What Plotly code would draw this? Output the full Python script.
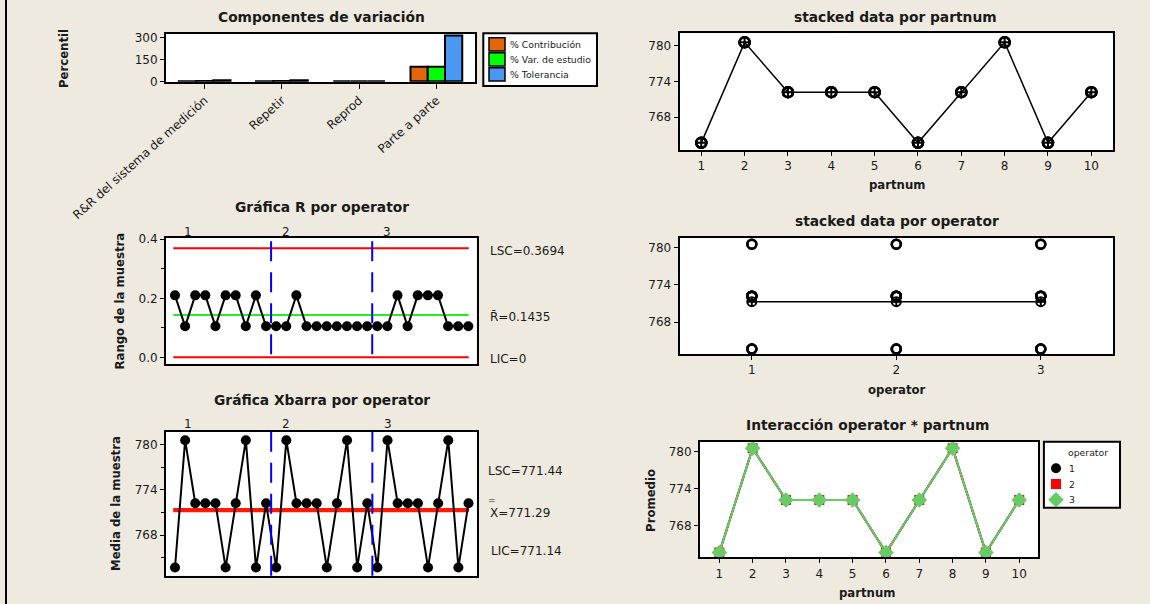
import numpy as np
import plotly.graph_objects as go

# ---------------- data ----------------
components = ["R&R del sistema de medición", "Repetir", "Reprod", "Parte a parte"]
pct_contribucion = [0.05, 0.05, 0.0, 99.95]
pct_var_estudio = [2.2, 2.2, 0.0, 99.98]
pct_tolerancia = [6.8, 6.8, 0.0, 315.0]

parts = list(range(1, 11))
operators = [1, 2, 3]

range_op1 = [0.21, 0.105, 0.21, 0.21, 0.105, 0.21, 0.21, 0.105, 0.21, 0.105]
range_op2 = [0.105, 0.105, 0.21, 0.105, 0.105, 0.105, 0.105, 0.105, 0.105, 0.105]
range_op3 = [0.105, 0.105, 0.21, 0.105, 0.21, 0.21, 0.21, 0.105, 0.105, 0.105]

xbar_op1 = [763.7, 780.55, 772.2, 772.2, 772.2, 763.7, 772.2, 780.55, 763.7, 772.2]
xbar_op2 = [763.7, 780.55, 772.2, 772.2, 772.2, 763.7, 772.2, 780.55, 763.7, 772.2]
xbar_op3 = [763.7, 780.55, 772.2, 772.2, 772.2, 763.7, 772.2, 780.55, 763.7, 772.2]

r_lsc, r_bar, r_lic = 0.3694, 0.1435, 0.0
x_lsc, x_dbar, x_lic = 771.44, 771.29, 771.14

# ---------------- helpers ----------------
W, H = 1150, 604
FONT = "DejaVu Sans"
BG = "#EEEAE0"


def dx(a, b):
    return [a / W, b / W]


def dy(top, bottom):
    return [1 - bottom / H, 1 - top / H]


def px(x):
    return x / W


def py(y):
    return 1 - y / H


def axis_style(**kw):
    d = dict(showline=True, mirror=True, linecolor="black", linewidth=2,
             ticks="outside", ticklen=4, tickwidth=1, tickcolor="black",
             showgrid=False, zeroline=False, automargin=False,
             tickfont=dict(family=FONT, size=12, color="#1a1a1a"))
    d.update(kw)
    return d


fig = go.Figure()

# ---------------- panel 1: components ----------------
for name, vals, col in [("% Contribución", pct_contribucion, "#E4660C"),
                        ("% Var. de estudio", pct_var_estudio, "#00FF00"),
                        ("% Tolerancia", pct_tolerancia, "#4C97F2")]:
    fig.add_trace(go.Bar(x=components, y=vals, name=name, marker=dict(color=col, line=dict(color="black", width=2)),
                         xaxis="x", yaxis="y", showlegend=False))

# ---------------- panel 2: R chart ----------------
sample_idx = list(range(1, 31))
r_all = range_op1 + range_op2 + range_op3
fig.add_trace(go.Scatter(x=sample_idx, y=r_all, mode="lines+markers",
                         line=dict(color="black", width=2),
                         marker=dict(color="black", size=10),
                         xaxis="x2", yaxis="y2", showlegend=False))

# ---------------- panel 3: Xbar chart ----------------
xbar_all = xbar_op1 + xbar_op2 + xbar_op3
for lim in [x_lsc, x_lic, x_dbar]:
    fig.add_trace(go.Scatter(x=[0.83, 30.04], y=[lim, lim], mode="lines",
                             line=dict(color="#FF1A00", width=2),
                             xaxis="x3", yaxis="y3", showlegend=False))
fig.add_trace(go.Scatter(x=sample_idx, y=xbar_all, mode="lines+markers",
                         line=dict(color="black", width=2),
                         marker=dict(color="black", size=10),
                         xaxis="x3", yaxis="y3", showlegend=False))

# ---------------- panel 4: by partnum ----------------
part_means = list(np.mean([xbar_op1, xbar_op2, xbar_op3], axis=0))
fig.add_trace(go.Scatter(x=parts * 3, y=xbar_all, mode="markers",
                         marker=dict(symbol="circle-open", color="black", size=10, line=dict(width=2.5)),
                         xaxis="x4", yaxis="y4", showlegend=False))
fig.add_trace(go.Scatter(x=parts, y=part_means, mode="lines+markers",
                         line=dict(color="black", width=1.5),
                         marker=dict(symbol="circle-cross-open", color="black", size=10, line=dict(width=2)),
                         xaxis="x4", yaxis="y4", showlegend=False))

# ---------------- panel 5: by operator ----------------
op_vals = [xbar_op1, xbar_op2, xbar_op3]
op_means = [float(np.mean(v)) for v in op_vals]
for o, vals in zip(operators, op_vals):
    fig.add_trace(go.Scatter(x=[o] * len(vals), y=vals, mode="markers",
                             marker=dict(symbol="circle-open", color="black", size=9, line=dict(width=2.5)),
                             xaxis="x5", yaxis="y5", showlegend=False))
fig.add_trace(go.Scatter(x=operators, y=op_means, mode="lines+markers",
                         line=dict(color="black", width=1.5),
                         marker=dict(symbol="circle-cross-open", color="black", size=9, line=dict(width=2)),
                         xaxis="x5", yaxis="y5", showlegend=False))

# ---------------- panel 6: interaction ----------------
inter_styles = [
    (xbar_op1, "black", "solid", "circle", 10),
    (xbar_op2, "#FF0000", "dash", "square", 10),
    (xbar_op3, "#66CC66", "solid", "diamond", 12),
]
for vals, col, dash, sym, sz in inter_styles:
    fig.add_trace(go.Scatter(x=parts, y=vals, mode="lines+markers",
                             line=dict(color=col, width=2, dash=dash),
                             marker=dict(symbol=sym, color=col, size=sz),
                             xaxis="x6", yaxis="y6", showlegend=False))

# legend markers for interaction (hidden axis)
leg_y = [0.597, 0.359, 0.121]
for (vals, col, dash, sym, sz), yy in zip(inter_styles, leg_y):
    fig.add_trace(go.Scatter(x=[0.159], y=[yy], mode="markers",
                             marker=dict(symbol=sym, color=col, size=sz),
                             xaxis="x7", yaxis="y7", showlegend=False, hoverinfo="skip"))

# ---------------- layout ----------------
fig.update_layout(
    template="none",
    width=W, height=H, autosize=False,
    margin=dict(l=0, r=0, t=0, b=0, pad=0, autoexpand=False),
    paper_bgcolor=BG, plot_bgcolor="white",
    barmode="group", bargap=0.33, bargroupgap=0,
    font=dict(family=FONT, color="#1a1a1a"),
    xaxis=axis_style(domain=dx(166, 475), anchor="y", range=[-0.5, 3.5], tickangle=-42, ticklen=5,
                     tickfont=dict(family=FONT, size=12, color="#1a1a1a")),
    yaxis=axis_style(domain=dy(34, 81.7), anchor="x", range=[-2.75, 325.5], tickvals=[0, 150, 300]),
    xaxis2=axis_style(domain=dx(166, 476.5), anchor="y2", range=[0.11, 30.81], showticklabels=False, ticks=""),
    yaxis2=axis_style(domain=dy(237.7, 363.7), anchor="x2", range=[-0.0217, 0.4054],
                      tickvals=[0.0, 0.2, 0.4], ticktext=["0.0", "0.2", "0.4"],
                      minor=dict(tickvals=[0.1, 0.3], ticklen=3, ticks="outside", tickcolor="black")),
    xaxis3=axis_style(domain=dx(166, 476.7), anchor="y3", range=[0.11, 30.81], showticklabels=False, ticks=""),
    yaxis3=axis_style(domain=dy(431.7, 575.7), anchor="x3", range=[762.62, 781.67],
                      tickvals=[768, 774, 780],
                      minor=dict(tickvals=[765, 771, 777], ticklen=3, ticks="outside", tickcolor="black")),
    xaxis4=axis_style(domain=dx(679.6, 1113), anchor="y4", range=[0.5, 10.5], tickvals=parts),
    yaxis4=axis_style(domain=dy(33.3, 150), anchor="x4", range=[762.5, 782.07], tickvals=[768, 774, 780]),
    xaxis5=axis_style(domain=dx(679.6, 1113), anchor="y5", range=[0.5, 3.5], tickvals=operators),
    yaxis5=axis_style(domain=dy(237.7, 354), anchor="x5", range=[762.9, 781.6], tickvals=[768, 774, 780]),
    xaxis6=axis_style(domain=dx(700, 1037.9), anchor="y6", range=[0.42, 10.56], tickvals=parts),
    yaxis6=axis_style(domain=dy(441.7, 557.3), anchor="x6", range=[762.94, 781.6], tickvals=[768, 774, 780]),
    xaxis7=dict(domain=dx(1043.9, 1120), anchor="y7", range=[0, 1], visible=False, fixedrange=True, automargin=False),
    yaxis7=dict(domain=dy(441.7, 507.7), anchor="x7", range=[0, 1], visible=False, fixedrange=True, automargin=False),
)

shapes = []
# left border
shapes.append(dict(type="line", xref="paper", yref="paper", x0=px(6), x1=px(6), y0=0, y1=1,
                   line=dict(color="black", width=2)))
# R chart limit lines
for val, col in [(r_lsc, "#FF0000"), (r_lic, "#FF0000"), (r_bar, "#22EE22")]:
    shapes.append(dict(type="line", xref="x2", yref="y2", x0=0.83, x1=30.04, y0=val, y1=val,
                       line=dict(color=col, width=2), layer="below"))
# operator dividers
for xv in [10.5, 20.5]:
    shapes.append(dict(type="line", xref="x2", yref="y2 domain", x0=xv, x1=xv, y0=0.075, y1=1,
                       line=dict(color="#0000FF", width=2, dash="20px,11px")))
    shapes.append(dict(type="line", xref="x3", yref="y3 domain", x0=xv, x1=xv, y0=0, y1=1,
                       line=dict(color="#0000FF", width=2, dash="20px,11px")))
# legend box panel 1
shapes.append(dict(type="rect", xref="paper", yref="paper", x0=px(483.3), x1=px(597), y0=py(86), y1=py(33.3),
                   line=dict(color="black", width=2), fillcolor="white", layer="below"))
for (t, b), col in zip([(37.7, 51), (52.7, 66), (67.7, 81)], ["#E4660C", "#00FF00", "#4C97F2"]):
    shapes.append(dict(type="rect", xref="paper", yref="paper", x0=px(489), x1=px(505), y0=py(b), y1=py(t),
                       line=dict(color="black", width=1.5), fillcolor=col))
# legend box interaction
shapes.append(dict(type="rect", xref="paper", yref="paper", x0=px(1043.9), x1=px(1120), y0=py(507.7), y1=py(441.7),
                   line=dict(color="black", width=2), fillcolor="white", layer="below"))
fig.update_layout(shapes=shapes)

ann = []


def text(x, y, s, size=12, bold=False, anchor="center", angle=0, color="#1a1a1a"):
    ann.append(dict(x=px(x), y=py(y), xref="paper", yref="paper", text=(f"<b>{s}</b>" if bold else s),
                    showarrow=False, xanchor=anchor, yanchor="middle", textangle=angle,
                    font=dict(family=FONT, size=size, color=color)))


# titles
text(321, 16.7, "Componentes de variación", 13.8, True)
text(321.5, 206.7, "Gráfica R por operator", 13.8, True)
text(321.7, 400, "Gráfica Xbarra por operator", 13.8, True)
text(895.6, 16.7, "stacked data por partnum", 13.8, True)
text(896.8, 221, "stacked data por operator", 13.8, True)
text(867.5, 425, "Interacción operator * partnum", 13.8, True)

# axis titles
text(64, 59, "Percentil", 11.7, True, angle=-90)
text(119, 301.5, "Rango de la muestra", 11.7, True, angle=-90)
text(116, 504, "Media de la muestra", 11.7, True, angle=-90)
text(896.5, 185, "partnum", 11.7, True)
text(896.5, 390, "operator", 11.7, True)
text(650.9, 500, "Promedio", 11.7, True, angle=-90)
text(866.7, 593.3, "partnum", 11.7, True)

# control limit labels
text(488.3, 251, f"LSC={r_lsc:.4f}", 12, anchor="left")
text(488.3, 316.7, f"R\u0304={r_bar:.4f}", 12, anchor="left")
text(488.3, 359.3, f"LIC={r_lic:.0f}", 12, anchor="left")
text(486, 471, f"LSC={x_lsc:.2f}", 12, anchor="left")
text(487.7, 512.7, f"X={x_dbar:.2f}", 12, anchor="left")
text(491.5, 500, "=", 9)
text(489, 550.7, f"LIC={x_lic:.2f}", 12, anchor="left")

# operator group labels
for xv, lab in zip([2.26, 11.95, 22.0], operators):
    for xr, yy in [("x2", 231.7), ("x3", 424)]:
        ann.append(dict(x=xv, y=py(yy), xref=xr, yref="paper", text=str(lab), showarrow=False,
                        xanchor="center", yanchor="middle", font=dict(family=FONT, size=12, color="#1a1a1a")))

# legend texts panel 1
for (yy, s) in zip([44.3, 59.3, 74.3], ["% Contribución", "% Var. de estudio", "% Tolerancia"]):
    text(508, yy, s, 9.3, anchor="left")

# interaction legend texts
text(1087.7, 452.7, "operator", 9.3)
for yy, lab in zip([468.3, 484, 499.7], operators):
    text(1066.7, yy, str(lab), 9.3, anchor="left")

fig.update_layout(annotations=ann)

fig.write_html("out.html",
               config={"displayModeBar": False},
               post_script="document.body.style.margin='0';document.body.style.padding='0';"
                           "document.body.style.overflow='hidden';")
